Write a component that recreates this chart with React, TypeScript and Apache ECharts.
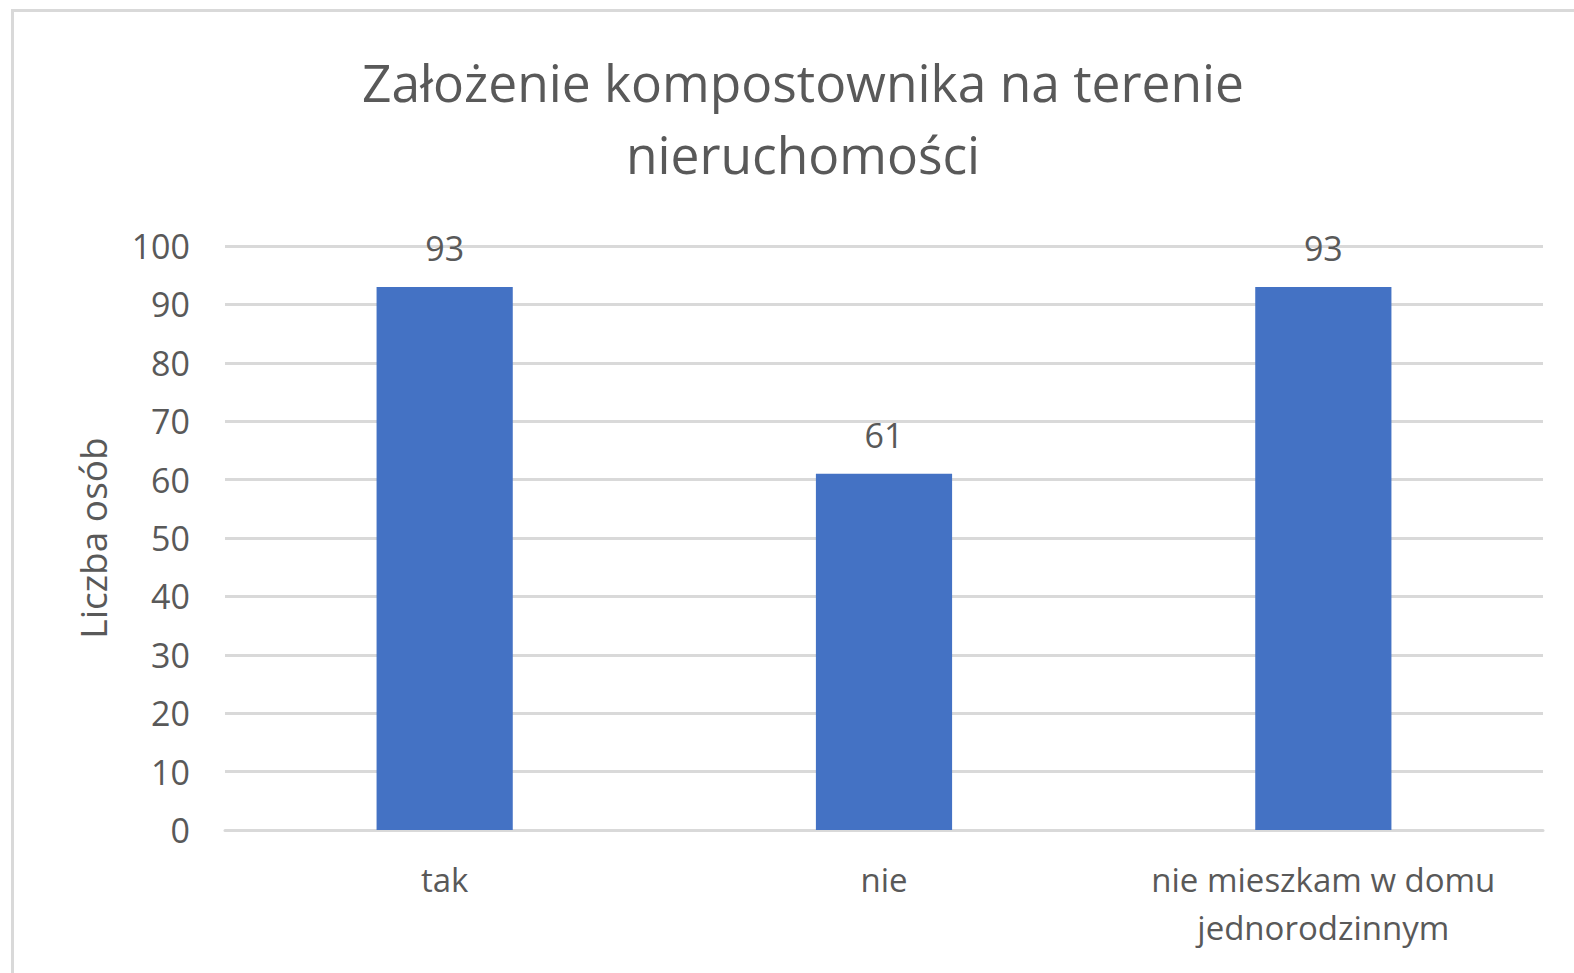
import React, { useEffect, useRef } from "react";
import * as echarts from "echarts";

const titleText = "Założenie kompostownika na terenie\nnieruchomości";
const yAxisName = "Liczba osób";
const categories = ["tak", "nie", "nie mieszkam w domu\njednorodzinnym"];
const values = [93, 61, 93];
const yTicks = { min: 0, max: 100, interval: 10 };

const FONT = "'Open Sans', sans-serif";
const GRAY = "#595959";

export default function App() {
  const ref = useRef<HTMLDivElement>(null);
  useEffect(() => {
    if (!ref.current) return;
    const chart = echarts.init(ref.current, undefined, { renderer: "svg" });
    chart.setOption({
      animation: false,
      backgroundColor: "#ffffff",
      textStyle: { fontFamily: FONT },
      graphic: [
        {
          type: "rect",
          shape: { x: 12.5, y: 10.5, width: 1700, height: 1100 },
          style: { fill: "none", stroke: "#d9d9d9", lineWidth: 3 },
          silent: true,
        },
      ],
      title: {
        text: titleText,
        left: 798,
        textAlign: "center",
        top: 41,
        textStyle: {
          fontFamily: FONT,
          fontSize: 51.5,
          fontWeight: "normal",
          color: GRAY,
          lineHeight: 72,
        },
      },
      grid: { left: 225, right: 31, top: 246, bottom: 143, containLabel: false },
      xAxis: {
        type: "category",
        data: categories,
        axisLine: { lineStyle: { color: "#d9d9d9", width: 3 } },
        axisTick: { show: false },
        axisLabel: {
          color: GRAY,
          fontFamily: FONT,
          fontSize: 33,
          lineHeight: 48,
          margin: 25,
          interval: 0,
        },
      },
      yAxis: {
        type: "value",
        min: yTicks.min,
        max: yTicks.max,
        interval: yTicks.interval,
        name: yAxisName,
        nameLocation: "middle",
        nameGap: 114,
        nameRotate: 90,
        nameTextStyle: { color: GRAY, fontFamily: FONT, fontSize: 37 },
        axisLine: { show: false },
        axisTick: { show: false },
        splitLine: { lineStyle: { color: "#d9d9d9", width: 3 } },
        axisLabel: { color: GRAY, fontFamily: FONT, fontSize: 34, margin: 35 },
      },
      series: [
        {
          type: "bar",
          data: values,
          barWidth: "31%",
          itemStyle: { color: "#4472c4" },
          label: {
            show: true,
            position: "top",
            distance: 22,
            color: GRAY,
            fontFamily: FONT,
            fontSize: 34,
          },
        },
      ],
    });
    return () => chart.dispose();
  }, []);
  return (
    <div
      ref={ref}
      style={{ position: "absolute", left: 0, top: 0, width: 1574, height: 973 }}
    />
  );
}
